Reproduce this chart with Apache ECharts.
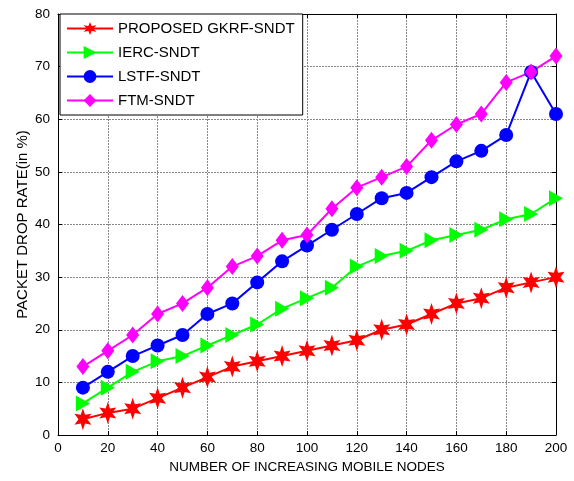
<!DOCTYPE html>
<html><head><meta charset="utf-8">
<script src="https://cdn.jsdelivr.net/npm/echarts@6/dist/echarts.min.js"></script>
<style>html,body{margin:0;padding:0;background:#fff}#c{width:574px;height:481px}</style>
</head><body><div id="c"></div>
<script>
const nodes = [10,20,30,40,50,60,70,80,90,100,110,120,130,140,150,160,170,180,190,200];
const gkrf = [3,4.2,5,7,9,11,13,14,15,16,17,18,20,21,23,25,26,28,29,30];
const ierc = [6,9,12,14,15,17,19,21,24,26,28,32,34,35,37,38,39,41,42,45];
const lstf = [9,12,15,17,19,23,25,29,33,36,39,42,45,46,49,52,54,57,69,61];
const ftm  = [13,16,19,23,25,28,32,34,37,38,43,47,49,51,56,59,61,67,69,72];
const xTicks = [0,20,40,60,80,100,120,140,160,180,200];
const yTicks = [0,10,20,30,40,50,60,70,80];

const star = 'path://M0,-10 L2.2,-4 L8.7,-5 L4.5,0 L8.7,5 L2.2,4 L0,10 L-2.2,4 L-8.7,5 L-4.5,0 L-8.7,-5 L-2.2,-4 Z';
const tri = 'path://M0,0 L10,6 L0,12 Z';
const font = 'Liberation Sans, Arial, sans-serif';
const pair = a => a.map((v,i)=>[nodes[i], v]);
function ser(name, data, color, symbol, size){
  return {name, type:'line', data: pair(data), symbol, symbolSize:size,
    lineStyle:{color, width:2}, itemStyle:{color}, emphasis:{disabled:true}};
}
const chart = echarts.init(document.getElementById('c'), null, {renderer:'canvas'});
const gridLine = {show:true, lineStyle:{color:'#888', type:[2,1], width:1}};
chart.setOption({
  animation:false,
  grid:{left:58, right:18, top:14, bottom:46},
  legend:{orient:'vertical', left:60, top:14, backgroundColor:'#fff', borderColor:'#000', borderWidth:1,
    padding:[7,8,7,6], itemGap:9, itemWidth:46, itemHeight:16, borderRadius:0,
    textStyle:{fontFamily:font, fontSize:15, color:'#000'},
    data:['PROPOSED GKRF-SNDT','IERC-SNDT','LSTF-SNDT','FTM-SNDT']},
  xAxis:[{type:'value', min:0, max:200, interval:20, position:'bottom',
    name:'NUMBER OF INCREASING MOBILE NODES', nameLocation:'middle', nameGap:25,
    nameTextStyle:{fontFamily:font, fontSize:13.5, color:'#000'},
    axisLine:{show:true, lineStyle:{color:'#000', width:1}},
    axisTick:{show:true, inside:true, length:4, lineStyle:{color:'#000'}},
    axisLabel:{fontFamily:font, fontSize:13.5, color:'#000', margin:6, customValues: xTicks, formatter:v=>String(v)},
    splitLine:gridLine},
   {type:'value', min:0, max:200, interval:20, position:'top',
    axisLine:{show:true, onZero:false, lineStyle:{color:'#000', width:1}},
    axisTick:{show:true, inside:true, length:4, lineStyle:{color:'#000'}},
    axisLabel:{show:false}, splitLine:{show:false}}],
  yAxis:[{type:'value', min:0, max:80, interval:10, position:'left',
    name:'PACKET DROP RATE(in %)', nameLocation:'middle', nameGap:28, nameRotate:90, nameMoveOverlap:false,
    nameTextStyle:{fontFamily:font, fontSize:15, color:'#000'},
    axisLine:{show:true, lineStyle:{color:'#000', width:1}},
    axisTick:{show:true, inside:true, length:4, lineStyle:{color:'#000'}},
    axisLabel:{fontFamily:font, fontSize:13.5, color:'#000', margin:8, customValues: yTicks},
    splitLine:gridLine},
   {type:'value', min:0, max:80, interval:10, position:'right',
    axisLine:{show:true, onZero:false, lineStyle:{color:'#000', width:1}},
    axisTick:{show:true, inside:true, length:4, lineStyle:{color:'#000'}},
    axisLabel:{show:false}, splitLine:{show:false}}],
  series:[
    ser('PROPOSED GKRF-SNDT', gkrf, '#ff0000', star, [17,22]),
    ser('IERC-SNDT', ierc, '#00ff00', tri, [14,16]),
    ser('LSTF-SNDT', lstf, '#0000ff', 'circle', 14),
    ser('FTM-SNDT', ftm, '#ff00ff', 'diamond', [13,17])
  ]
});
</script></body></html>
